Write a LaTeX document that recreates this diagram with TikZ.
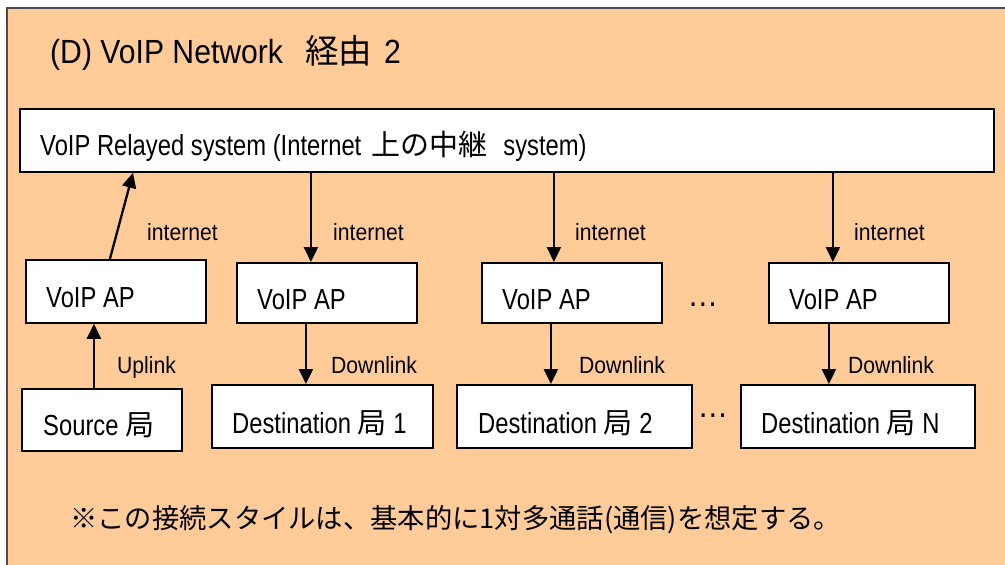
\documentclass[tikz,border=0pt]{standalone}
\usepackage{fontspec}
\setmainfont{Liberation Sans}[FakeStretch=0.82]
\newfontfamily\widefont{Liberation Sans}[FakeStretch=0.9]
\newfontfamily\cjk{Noto Sans CJK JP}
\usetikzlibrary{arrows.meta}
\definecolor{peach}{RGB}{255,204,153}
\tikzset{
  box/.style={draw=black, line width=1.8pt, fill=white, inner sep=0pt, anchor=north west},
  boxtxt/.style={anchor=base west, inner sep=0pt, font=\fontsize{29}{30}\selectfont},
  lbl/.style={anchor=base west, inner sep=0pt, font=\widefont\fontsize{23.5}{24}\selectfont},
  dots/.style={anchor=base, inner sep=0pt, font=\widefont\fontsize{34}{34}\selectfont},
  arr/.style={line width=2.3pt, -{Triangle[width=14pt,length=15pt]}},
}
\begin{document}
\begin{tikzpicture}[x=1pt,y=-1pt]
\useasboundingbox (0,0) rectangle (1005,565);
\clip (0,0) rectangle (1005,565);
\fill[white] (0,0) rectangle (1005,565);
\draw[fill=peach, draw=black!70, line width=1.5pt] (7,8) rectangle (1012,580);

% title
\node[anchor=base west, inner sep=0pt, font=\widefont\fontsize{33.5}{34}\selectfont] (title) at (50,63)
  {(D) VoIP Network\hspace{22pt}{\cjk 経由}\hspace{12pt}2};

% boxes
\node[box, minimum width=974pt, minimum height=63pt] (relay) at (19,108) {};
\node[box, minimum width=180pt, minimum height=63pt] (ap1) at (25,259) {};
\node[box, minimum width=180pt, minimum height=60pt] (ap2) at (236,262) {};
\node[box, minimum width=180pt, minimum height=60pt] (ap3) at (481,262) {};
\node[box, minimum width=180pt, minimum height=60pt] (ap4) at (768,262) {};
\node[box, minimum width=160pt, minimum height=62pt] (src) at (21,388) {};
\node[box, minimum width=221pt, minimum height=63pt] (dst1) at (211,384) {};
\node[box, minimum width=235pt, minimum height=63pt] (dst2) at (456,384) {};
\node[box, minimum width=234pt, minimum height=63pt] (dstn) at (740,384) {};

% box texts
\node[boxtxt] (relaytxt) at (40,155)
  {VoIP Relayed system (Internet\hspace{10pt}{\cjk 上の中継}\hspace{16pt}system)};
\node[boxtxt] (ap1txt) at (46,307) {VoIP AP};
\node[boxtxt] (ap2txt) at (257,309) {VoIP AP};
\node[boxtxt] (ap3txt) at (502,309) {VoIP AP};
\node[boxtxt] (ap4txt) at (789,309) {VoIP AP};
\node[boxtxt] (srctxt) at (43,435) {Source {\cjk 局}};
\node[boxtxt] (dst1txt) at (232,433) {Destination {\cjk 局} 1};
\node[boxtxt] (dst2txt) at (478,433) {Destination {\cjk 局} 2};
\node[boxtxt] (dstntxt) at (761,433) {Destination {\cjk 局} N};

% ellipses
\node[dots] (dotsap) at (703,306) {…};
\node[dots] (dotsdst) at (713,417) {…};

% connectors
\draw[arr] ([xshift=-8pt]src.north) -- ([xshift=-8pt]src.north |- ap1.south);
\draw[arr] ([xshift=-6pt]ap1.north) -- ([xshift=114pt]relay.south west);
\draw[arr] ([xshift=-16pt]ap2.north |- relay.south) -- ([xshift=-16pt]ap2.north);
\draw[arr] ([xshift=-18pt]ap3.north |- relay.south) -- ([xshift=-18pt]ap3.north);
\draw[arr] ([xshift=-26pt]ap4.north |- relay.south) -- ([xshift=-26pt]ap4.north);
\draw[arr] ([xshift=-21pt]ap2.south) -- ([xshift=-21pt]ap2.south |- dst1.north);
\draw[arr] ([xshift=-21pt]ap3.south) -- ([xshift=-21pt]ap3.south |- dst2.north);
\draw[arr] ([xshift=-30pt]ap4.south) -- ([xshift=-30pt]ap4.south |- dstn.north);

% labels
\node[lbl] (l1) at (147,240) {internet};
\node[lbl] (l2) at (333,240) {internet};
\node[lbl] (l3) at (575,240) {internet};
\node[lbl] (l4) at (854,240) {internet};
\node[lbl] (l5) at (117,373) {Uplink};
\node[lbl] (l6) at (331,373) {Downlink};
\node[lbl] (l7) at (579,373) {Downlink};
\node[lbl] (l8) at (848,373) {Downlink};

% note
\node[anchor=west, inner sep=0pt, font=\cjk\fontsize{27.3}{28}\selectfont] (note) at (70,520)
  {※この接続スタイルは、基本的に1対多通話(通信)を想定する。};
\end{tikzpicture}
\end{document}
